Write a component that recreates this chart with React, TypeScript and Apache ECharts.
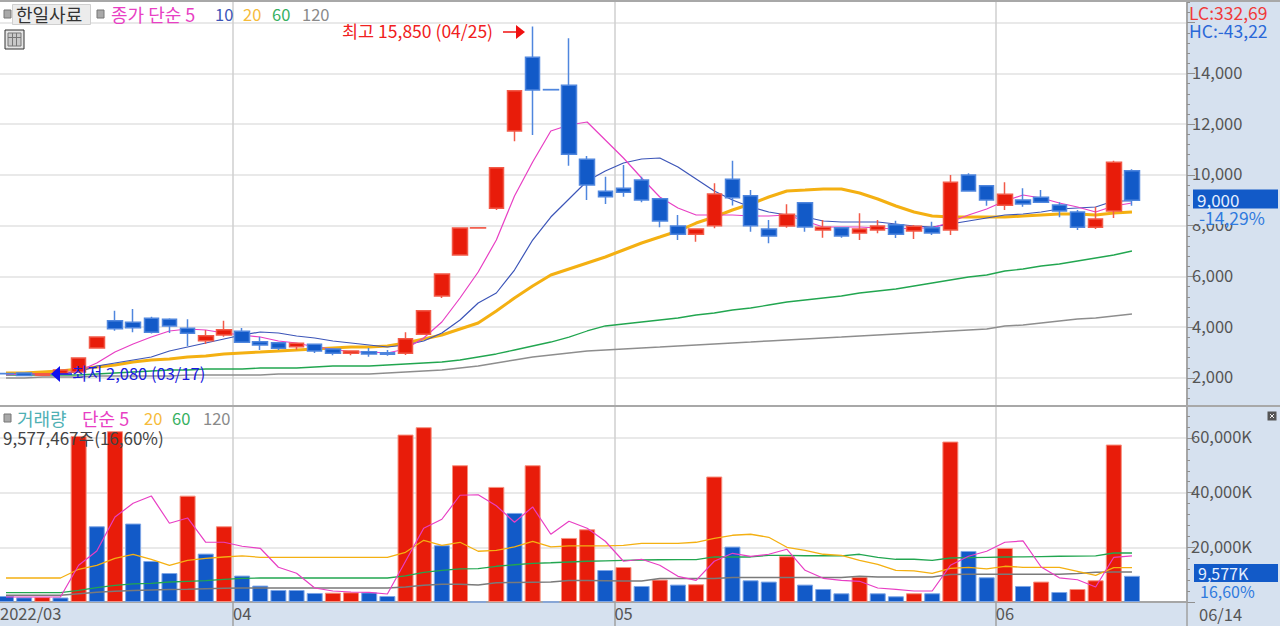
import React, { useEffect, useRef } from "react";
import * as echarts from "echarts";

const openPrices = [2180,2197,2110,2180,2236,3182,4258,4195,4352,4313,3958,3470,3694,3840,3430,3391,3233,3328,3143,2973,3036,2997,2973,3722,5231,6846,7910,8686,11732,14635,13365,13532,10617,9356,9474,9801,9064,7989,7662,8000,9829,9183,7871,7989,8906,7832,7922,7713,7832,8040,7792,7922,7832,9998,9577,8804,9013,9120,8816,8540,7938,8580,10168];
const closePrices = [2170,2100,2170,2320,2788,3615,3942,3982,3800,4049,3760,3667,3903,3407,3300,3170,3367,3064,2973,3064,2945,2934,3548,4651,6098,7910,7918,10286,13320,13347,13355,10814,9604,9143,9316,9013,8186,7662,7871,9250,9104,8000,7595,8450,7949,7938,7595,7871,7989,7662,7977,7713,9711,9368,9013,9238,8856,8923,8580,7938,8265,10500,9000];
const lowPrices = [2140,2100,2080,2150,2236,3182,3864,3800,3750,3773,3260,3340,3627,3407,3103,3103,3115,2985,2900,2900,2840,2880,2906,3722,5150,6846,7910,8620,11326,11574,13355,10365,9013,8856,9143,8922,7938,7437,7370,7898,8793,7763,7307,7922,7763,7528,7528,7437,7701,7516,7477,7634,7634,9368,8789,8620,8749,8923,8330,7832,7871,8304,8789];
const highPrices = [2200,2197,2180,2340,2788,3615,4651,4719,4415,4350,4313,3891,4258,3973,3627,3391,3367,3328,3143,3064,3182,3100,3800,4651,6098,7910,7918,10286,13320,15850,13365,15384,10747,9931,10392,9931,9064,8422,7871,9670,10562,9407,8225,8844,8906,8225,7922,8490,8225,8197,8028,8158,9998,10065,9577,9711,9474,9407,8923,8620,8749,10562,10222];

const priceMa5 = [2118,2158,2158,2197,2276,2591,3024,3340,3615,3852,3931,3891,3773,3694,3615,3458,3379,3221,3143,3024,3024,2985,3143,3576,4206,5152,6176,7437,9171,10510,11732,11968,12086,11377,10668,9880,9131,8698,8422,8422,8422,8383,8383,8422,8186,7949,7949,7949,7910,7871,7910,7910,8146,8422,8659,8974,9210,9092,8895,8737,8540,8777,8895];
const priceMa10 = [2158,2158,2158,2197,2236,2473,2591,2709,2827,3064,3221,3379,3537,3694,3812,3773,3655,3576,3458,3379,3300,3221,3300,3458,3773,4285,4955,5349,6255,7437,8343,9053,9762,10156,10471,10629,10668,10313,9841,9368,9013,8737,8540,8422,8343,8186,8146,8146,8146,8068,7989,7949,8068,8186,8304,8422,8462,8540,8659,8698,8737,8974,8974];
const priceMa20 = [2197,2197,2236,2276,2355,2433,2512,2630,2709,2749,2827,2867,2946,2985,3024,3064,3103,3143,3182,3221,3221,3261,3379,3537,3694,3931,4167,4640,5152,5625,6058,6295,6531,6767,7043,7319,7555,7792,8107,8343,8619,8856,9131,9368,9407,9447,9447,9289,9053,8777,8540,8383,8343,8343,8343,8343,8383,8422,8462,8462,8422,8501,8540];
const priceMa60 = [2118,2118,2118,2118,2118,2158,2197,2236,2276,2315,2315,2355,2355,2355,2394,2394,2394,2433,2473,2473,2473,2512,2552,2591,2630,2709,2827,2946,3103,3261,3418,3615,3852,4049,4128,4206,4285,4364,4482,4561,4679,4758,4876,4994,5073,5152,5231,5349,5428,5507,5625,5743,5861,5979,6058,6216,6295,6413,6492,6610,6728,6846,7004];
const priceMa120 = [2000,2000,2039,2039,2039,2079,2079,2079,2079,2079,2118,2118,2118,2118,2118,2158,2158,2158,2158,2158,2158,2197,2236,2276,2315,2394,2473,2591,2709,2827,2906,2985,3064,3103,3143,3182,3221,3261,3300,3340,3379,3418,3458,3497,3537,3576,3615,3655,3694,3734,3773,3812,3852,3891,3931,4049,4088,4167,4246,4325,4364,4443,4522];

const volumes = [2200,1700,1800,1650,60750,27700,62480,28700,15000,10600,38900,17700,27700,9660,6000,4400,4400,3300,3400,3550,3500,2200,61250,63940,20750,50030,0,42100,32580,50030,0,23430,26600,11700,12800,5860,8200,6360,6500,45900,20270,7940,7470,16730,6360,4760,3180,9150,3180,2090,3200,3190,58700,18670,9040,19770,5860,7470,3660,4760,7940,57600,9577];
const volumeMa5 = [1830,1830,1830,1830,13430,18670,31110,36120,38800,28800,30740,21850,21850,20390,19650,12700,10500,5120,4030,3660,3550,2930,14900,26970,30270,39050,39230,35200,29170,34770,24780,29530,26970,22220,14900,15630,13430,9400,7940,14900,17820,16700,17460,19280,11600,8670,7940,7570,5120,4650,4030,4030,13430,16730,18560,21850,22330,12810,8860,8130,5490,16360,16840];
const volumeMa20 = [8780,8780,8780,8780,11970,13430,15990,17460,15600,13430,15260,15990,16470,16840,16360,16360,16360,16360,16360,16360,16360,16360,18190,22580,20750,21850,18560,18920,20130,22220,20130,20500,20500,20500,20750,21480,21480,21480,21850,23310,24410,24780,23680,20020,18920,17460,17090,15260,13800,11600,11350,10500,12330,12700,12150,13070,12700,12700,12700,11240,9770,12590,12590];
const volumeMa60 = [3440,3440,3440,3440,4280,5270,6110,6660,6840,7320,7580,7830,8300,8670,8780,8780,8780,8780,8780,8780,8780,8780,9520,10870,11600,12150,12220,13070,13620,14160,14350,14640,14900,15080,15260,15370,15450,15520,15520,16470,16470,16470,17090,17090,16910,16910,16840,17460,16360,15630,15630,15260,16100,16250,16360,16470,16540,16620,16730,16760,16840,17930,17930];
const volumeMa120 = [2450,2450,2450,2450,3000,3550,3920,4170,4390,4540,4650,4830,5010,5120,5120,5120,5120,5120,5120,5120,5120,5120,5490,6110,6480,6480,6220,7030,7140,7210,7280,7870,7870,7800,7720,7720,8560,8560,8560,8560,8930,8930,8930,8930,8930,8930,8930,9410,9150,9150,9150,9150,10030,10140,10140,10140,10140,10140,10140,10400,10870,10980,10980];

const priceTicks = [2000,4000,6000,8000,10000,12000,14000,16000];
const priceLabels = [2000,4000,6000,8000,10000,12000,14000];
const priceMinorTicks = [1200,1600,2400,2800,3200,3600,4400,4800,5200,5600,6400,6800,7200,7600,8400,8800,9200,9600,10400,10800,11200,11600,12400,12800,13200,13600,14400,14800,15200,15600,16400,16800];
const monthSplits = [12.5,33.5,54.5];
const xMin = -0.33;
const xMax = 65.03;
const dateLabels: Record<string,string> = { "-0.33":"2022/03", "12.5":"04", "33.5":"05", "54.5":"06" };

const RED = "#e81c0a";
const BLUE = "#125ac8";
const PINK = "#e83fc4";
const NAVY = "#3c55b8";
const ORANGE = "#f4b012";
const GREEN = "#22a650";
const GRAY = "#8e8e8e";
const STRIP = "#d6e1ef";
const FONT = '"Noto Sans CJK KR"';
const AXIS_SIZE = 16.5;

const pair = (a: number[]) => a.map((v, i) => [i, v]);
const candleData = openPrices.map((o, i) => [i, o, closePrices[i], lowPrices[i], highPrices[i]]);
const volumeData = volumes.map((v, i) => ({
  value: [i, v],
  itemStyle: i > 0 && v > volumes[i - 1]
    ? { color: RED, borderColor: "#f7907f", borderWidth: 1 }
    : { color: BLUE, borderColor: "#7ea6e6", borderWidth: 1 },
}));

const txt = (text: string, x: number, y: number, fill: string, size = 16) => ({
  type: "text", x, y, z: 100,
  style: { text, fill, font: `${size}px ${FONT}`, verticalAlign: "middle" },
});
const box = (x: number, y: number, width: number, height: number, fill: string, stroke?: string) => ({
  type: "rect", z: 99, shape: { x, y, width, height },
  style: { fill, stroke: stroke ?? null, lineWidth: 1 },
});
const priceLine = (name: string, data: number[], color: string, width: number) => ({
  type: "line", name, data: pair(data), xAxisIndex: 0, yAxisIndex: 0, symbol: "none", z: 2,
  lineStyle: { color, width }, silent: true,
});
const volumeLine = (name: string, data: number[], color: string, width: number) => ({
  type: "line", name, data: pair(data), xAxisIndex: 1, yAxisIndex: 2, symbol: "none", z: 4,
  lineStyle: { color, width }, silent: true,
});

const option: any = {
  animation: false,
  backgroundColor: STRIP,
  textStyle: { fontFamily: FONT },
  grid: [
    { left: 0, top: 0, width: 1187, height: 405, show: true, backgroundColor: "#fff", borderWidth: 0, outerBoundsMode: "none" },
    { left: 0, top: 406, width: 1187, height: 196, show: true, backgroundColor: "#fff", borderWidth: 0, outerBoundsMode: "none" },
  ],
  xAxis: [
    {
      type: "value", gridIndex: 0, min: xMin, max: xMax, axisLine: { show: false, onZero: false },
      axisLabel: { show: false },
      axisTick: { show: false, customValues: monthSplits },
      splitLine: { show: true, lineStyle: { color: "#cfcfcf", width: 1.5 } },
    },
    {
      type: "value", gridIndex: 1, min: xMin, max: xMax,
      axisLine: { show: true, onZero: false, lineStyle: { color: "#a6a6a6", width: 2 } },
      axisTick: { show: true, length: 24, customValues: [...monthSplits, xMax], lineStyle: { color: "#a0a0a0", width: 1.5 } },
      axisLabel: {
        show: true, customValues: [xMin, ...monthSplits], margin: 3, align: "left",
        color: "#555", fontSize: AXIS_SIZE, fontFamily: FONT, showMinLabel: true,
        formatter: (v: number) => dateLabels[String(v)] ?? "",
      },
      splitLine: { show: true, lineStyle: { color: "#cfcfcf", width: 1.5 } },
    },
  ],
  yAxis: [
    {
      type: "value", gridIndex: 0, position: "right", min: 936, max: 16894,
      axisLine: { show: true, onZero: false, lineStyle: { color: "#a6a6a6", width: 2 } },
      axisTick: { show: true, length: 8, customValues: priceTicks, lineStyle: { color: "#909090" } },
      axisLabel: {
        show: true, customValues: priceLabels, margin: 5, color: "#555", fontSize: AXIS_SIZE, fontFamily: FONT,
        verticalAlign: "bottom", lineHeight: 3,
        formatter: (v: number) => v.toLocaleString("en-US"),
      },
      splitLine: { show: true, lineStyle: { color: "#e2e2e2", width: 1.5 } },
    },
    {
      type: "value", gridIndex: 0, position: "right", min: 936, max: 16894,
      axisLine: { show: false, onZero: false },
      axisTick: { show: true, length: 3, customValues: priceMinorTicks, lineStyle: { color: "#909090" } },
      axisLabel: { show: false },
      splitLine: { show: false },
    },
    {
      type: "value", gridIndex: 1, position: "right", min: 0, max: 71700, interval: 20000,
      axisLine: { show: true, onZero: false, lineStyle: { color: "#a6a6a6", width: 2 } },
      axisTick: { show: true, length: 8, lineStyle: { color: "#909090" } },
      minorTick: { show: true, splitNumber: 5, length: 3, lineStyle: { color: "#909090" } },
      axisLabel: {
        show: true, margin: 4, color: "#555", fontSize: AXIS_SIZE, fontFamily: FONT, showMinLabel: false, showMaxLabel: false,
        verticalAlign: "bottom", lineHeight: 3,
        formatter: (v: number) => (v === 0 ? "" : `${v.toLocaleString("en-US")}K`),
      },
      splitLine: { show: true, lineStyle: { color: "#e2e2e2", width: 1.5 } },
    },
  ],
  series: [
    priceLine("120", priceMa120, GRAY, 1.5),
    priceLine("60", priceMa60, GREEN, 1.3),
    priceLine("20", priceMa20, ORANGE, 3),
    priceLine("10", priceMa10, NAVY, 1.2),
    priceLine("5", priceMa5, PINK, 1.2),
    {
      type: "candlestick", name: "한일사료", data: candleData, xAxisIndex: 0, yAxisIndex: 0, z: 3,
      encode: { x: 0, y: [1, 2, 3, 4] }, barWidth: 15, silent: true,
      itemStyle: { color: RED, color0: BLUE, borderColor: "#f25a48", borderColor0: "#4f86de", borderWidth: 1.5 },
    },
    {
      type: "bar", name: "거래량", data: volumeData, xAxisIndex: 1, yAxisIndex: 2, barWidth: 16, z: 3, silent: true,
    },
    volumeLine("120", volumeMa120, "#7a7a7a", 1.5),
    volumeLine("60", volumeMa60, GREEN, 1.3),
    volumeLine("20", volumeMa20, ORANGE, 1.3),
    volumeLine("5", volumeMa5, PINK, 1.2),
  ],
  graphic: {
    elements: [
      box(0, 0, 1280, 2, "#a8a8a8"),
      box(0, 405, 1280, 2, "#a8a8a8"),
      box(4, 10, 7, 8, "#a9a9a9", "#777"),
      box(12.5, 4.5, 78, 20, "#ececec", "#cfcfcf"),
      txt("한일사료", 16, 14, "#333", 18),
      box(97, 10, 7, 8, "#a9a9a9", "#777"),
      txt("종가 단순 5", 111, 14, PINK, 18),
      txt("10", 215, 14, NAVY, 16.5),
      txt("20", 243, 14, "#f6bb3a", 16.5),
      txt("60", 272, 14, "#35b060", 16.5),
      txt("120", 302, 14, "#8a8a8a", 16.5),
      box(5, 30, 19, 19, "#e4e4e4", "#333"),
      box(8, 33, 13, 13, "#c8c8c8", "#777"),
      { type: "line", z: 100, shape: { x1: 12.5, y1: 33, x2: 12.5, y2: 46 }, style: { stroke: "#777", lineWidth: 1 } },
      { type: "line", z: 100, shape: { x1: 16.5, y1: 33, x2: 16.5, y2: 46 }, style: { stroke: "#777", lineWidth: 1 } },
      { type: "line", z: 100, shape: { x1: 8, y1: 37.5, x2: 21, y2: 37.5 }, style: { stroke: "#777", lineWidth: 1 } },

      txt("최고 15,850 (04/25)", 342, 30, "#f02020", 17.5),
      { type: "line", z: 100, shape: { x1: 503, y1: 32, x2: 518, y2: 32 }, style: { stroke: "#f01010", lineWidth: 1.5 } },
      { type: "polygon", z: 100, shape: { points: [[516, 25], [525, 32], [516, 39]] }, style: { fill: "#f01010" } },

      { type: "polygon", z: 100, shape: { points: [[51, 374], [60, 366], [60, 382]] }, style: { fill: "#1010f0" } },
      { type: "line", z: 100, shape: { x1: 60, y1: 374, x2: 72, y2: 374 }, style: { stroke: "#1010f0", lineWidth: 1.5 } },
      txt("최저 2,080 (03/17)", 72, 373, "#1a1ae0", 16.5),

      txt("LC:332,69", 1189, 12, "#f03a3a", 17.5),
      txt("HC:-43,22", 1189, 30, "#2a68d8", 17.5),
      box(1193, 189.5, 85, 19, BLUE),
      txt("9,000", 1197, 199, "#e4eeff", 17),
      box(1193, 209, 85, 15, STRIP),
      txt("-14,29%", 1199, 217, "#2f7ade", 17.5),

      box(4, 414, 7, 8, "#a9a9a9", "#777"),
      txt("거래량", 17, 418, "#4fb0b4", 18),
      txt("단순 5", 82, 418, PINK, 18),
      txt("20", 144, 418, "#f6bb3a", 16.5),
      txt("60", 172, 418, "#35b060", 16.5),
      txt("120", 203, 418, "#8a8a8a", 16.5),
      txt("9,577,467주(16,60%)", 3, 437, "#444", 17),

      box(1267.5, 411.5, 9, 9, "#555"),
      { type: "line", z: 100, shape: { x1: 1270, y1: 414, x2: 1274, y2: 418 }, style: { stroke: "#eee", lineWidth: 1 } },
      { type: "line", z: 100, shape: { x1: 1274, y1: 414, x2: 1270, y2: 418 }, style: { stroke: "#eee", lineWidth: 1 } },

      box(1194, 564, 84, 18, BLUE),
      txt("9,577K", 1198, 573, "#e4eeff"),
      txt("16,60%", 1200, 591, "#2f7ade"),
      txt("06/14", 1199, 614, "#555", AXIS_SIZE),
    ],
  },
};

export default function App() {
  const ref = useRef<HTMLDivElement>(null);
  useEffect(() => {
    document.body.style.margin = "0";
    document.body.style.overflow = "hidden";
    const chart = echarts.init(ref.current!, null, { renderer: "svg" });
    chart.setOption(option);
    return () => chart.dispose();
  }, []);
  return <div ref={ref} style={{ position: "absolute", left: 0, top: 0, width: 1280, height: 626 }} />;
}
